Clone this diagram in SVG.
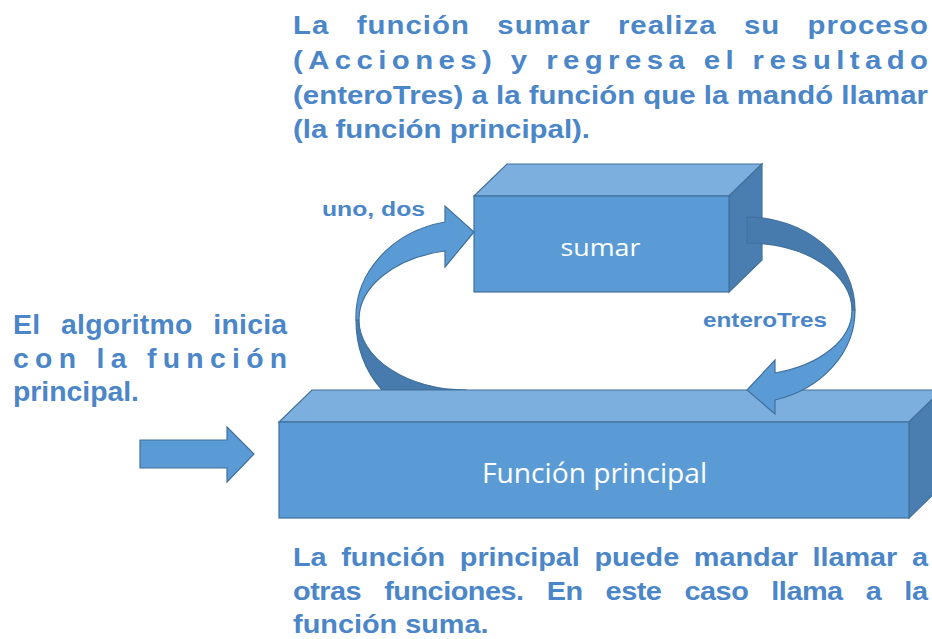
<svg xmlns="http://www.w3.org/2000/svg" width="932" height="639" viewBox="0 0 932 639">
<style>
.front{fill:#5B9BD5;stroke:#41719C;stroke-width:1.2}
.top{fill:#7DAFDE;stroke:#41719C;stroke-width:1.2}
.side{fill:#4A7EB1;stroke:#41719C;stroke-width:1.2}
.arr{fill:#5B9BD5;stroke:#41719C;stroke-width:1.2;stroke-linejoin:miter}
.arrd{fill:#477BAE;stroke:#41719C;stroke-width:1.2}
.lbl{font-family:"Liberation Sans",Arial,sans-serif;font-weight:bold;fill:#4A86C8}
.box{font-family:"Open Sans","Liberation Sans",sans-serif;fill:#FFFFFF;text-anchor:middle}
</style>
<rect width="932" height="639" fill="#FFFFFF"/>
<g id="connectors">
  <g id="arrow-uno-dos">
    <path class="arrd" d="M356,320 C356,350 366,372 382,390 L467,390 A108,70 0 0 1 359,320 Z"/>
    <path class="arr" d="M356,320 A111,97 0 0 1 445,222 L445,206 L474,232 L445,267 L445,251 A108,70 0 0 0 359,320 Z"/>
  </g>
</g>
<g id="node-principal">
  <polygon class="top" points="279,422 312,390 942,390 909,422"/>
  <polygon class="side" points="909,422 942,390 942,486 909,518"/>
  <rect class="front" x="279" y="422" width="630" height="96"/>
  <text class="box" x="594.5" y="483" font-size="27" textLength="225" lengthAdjust="spacingAndGlyphs">Función principal</text>
</g>
<g id="node-sumar">
  <polygon class="top" points="474,196 507,164 762,164 729,196"/>
  <polygon class="side" points="729,196 762,164 762,260 729,292"/>
  <rect class="front" x="474" y="196" width="255" height="96"/>
  <text class="box" x="600.5" y="256" font-size="24" textLength="80" lengthAdjust="spacingAndGlyphs">sumar</text>
</g>
<g id="connectors-2">
  <g id="arrow-enteroTres">
    <path class="arrd" d="M747,217 A108,93 0 0 1 855,310 L852,310 A105,67 0 0 0 747,243 Z"/>
    <path class="arr" d="M855,310 A108,93 0 0 1 775,400 L775,414 L747,390 L775,360 L775,373 A105,65 0 0 0 852,310 Z"/>
  </g>
  <polygon id="arrow-start" class="arr" points="140,440 227,440 227,427 254,454 227,482 227,468 140,468"/>
</g>
<g id="labels">
  <text class="lbl" x="322" y="216" font-size="20" textLength="103" lengthAdjust="spacingAndGlyphs">uno, dos</text>
  <text class="lbl" x="703" y="327" font-size="20" textLength="124" lengthAdjust="spacingAndGlyphs">enteroTres</text>
</g>
<g id="text-top" class="lbl" font-size="26" transform="scale(1.13,1)">
  <text x="259.3" y="34" word-spacing="16" textLength="562" lengthAdjust="spacing">La función sumar realiza su proceso</text>
  <text x="259.3" y="69" textLength="562" lengthAdjust="spacing">(Acciones) y regresa el resultado</text>
  <text x="259.3" y="104" textLength="562" lengthAdjust="spacing">(enteroTres) a la función que la mandó llamar</text>
  <text x="259.3" y="138">(la función principal).</text>
</g>
<g id="text-left" class="lbl" font-size="27" transform="scale(1.05,1)">
  <text x="12.4" y="334" word-spacing="12" textLength="261" lengthAdjust="spacing">El algoritmo inicia</text>
  <text x="12.4" y="368" textLength="261" lengthAdjust="spacing">con la función</text>
  <text x="12.4" y="401">principal.</text>
</g>
<g id="text-bottom" class="lbl" font-size="26" transform="scale(1.11,1)">
  <text x="264" y="566" word-spacing="6" textLength="572" lengthAdjust="spacing">La función principal puede mandar llamar a</text>
  <text x="264" y="600" word-spacing="14" textLength="572" lengthAdjust="spacing">otras funciones. En este caso llama a la</text>
  <text x="264" y="633">función suma.</text>
</g>
</svg>
